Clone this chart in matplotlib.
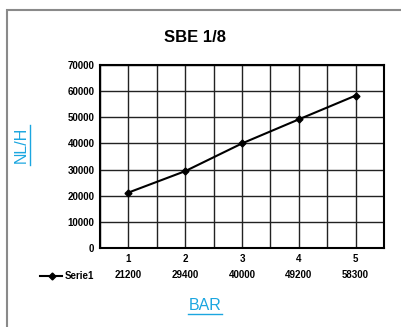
import matplotlib.pyplot as plt
from matplotlib.lines import Line2D
from matplotlib.patches import Rectangle

# Datos
presion = [1, 2, 3, 4, 5]
caudal = [21200, 29400, 40000, 49200, 58300]
serie = "Serie1"
titulo = "SBE 1/8"

plt.rcParams['font.family'] = ['Liberation Sans', 'DejaVu Sans']

fig = plt.figure(figsize=(4.01, 3.27), dpi=100)
ax = fig.add_axes([100 / 401, 1 - 248 / 327, 284 / 401, 183 / 327])

ax.plot(presion, caudal, color='black', lw=1.5, marker='D', ms=3.5)

ax.set_xlim(0.5, 5.5)
ax.set_ylim(0, 70000)
ax.set_xticks(presion)
ax.set_xticks([p + 0.5 for p in [0] + presion], minor=True)
ax.set_yticks(range(0, 70001, 10000))
ax.grid(True, which='both', color='#222222', lw=1.0)
ax.set_axisbelow(True)
ax.tick_params(length=0, which='both', labelsize=7, pad=4)
for lbl in ax.get_xticklabels() + ax.get_yticklabels():
    lbl.set_fontweight('bold')
for s in ax.spines.values():
    s.set_linewidth(1.5)
    s.set_color('black')

# Tabla de datos
for p, c in zip(presion, caudal):
    ax.text(p, -10200, str(c), ha='center', va='center', fontsize=7,
            fontweight='bold')
fig.add_artist(Line2D([40 / 401, 62 / 401], [1 - 276 / 327] * 2, color='black',
                      lw=1.5))
fig.add_artist(Line2D([52 / 401], [1 - 276 / 327], color='black', marker='D',
                      ms=3.5))
fig.text(65 / 401, 1 - 276 / 327, serie, ha='left', va='center', fontsize=7,
         fontweight='bold')

fig.text(195 / 401, 1 - 38 / 327, titulo, ha='center', va='center', fontsize=12,
         fontweight='bold')

# Etiquetas de ejes (azules, subrayadas)
azul = '#1ba6e0'
fig.text(205 / 401, 1 - 306 / 327, 'BAR', ha='center', va='center', fontsize=11.5,
         color=azul)
fig.add_artist(Line2D([188 / 401, 222 / 401], [1 - 314 / 327] * 2, color=azul, lw=1))
fig.text(21 / 401, 1 - 145 / 327, 'NL/H', ha='center', va='center', fontsize=11.5,
         color=azul, rotation=90)
fig.add_artist(Line2D([30 / 401] * 2, [1 - 165 / 327, 1 - 125 / 327], color=azul, lw=1))

# Marco gris
fig.add_artist(Rectangle((7 / 401, -0.1), 1, 1 - 10 / 327 + 0.1, fill=False,
                         edgecolor='#8a8a8a', lw=1.5, transform=fig.transFigure))

fig.savefig('out.png', dpi=100)
